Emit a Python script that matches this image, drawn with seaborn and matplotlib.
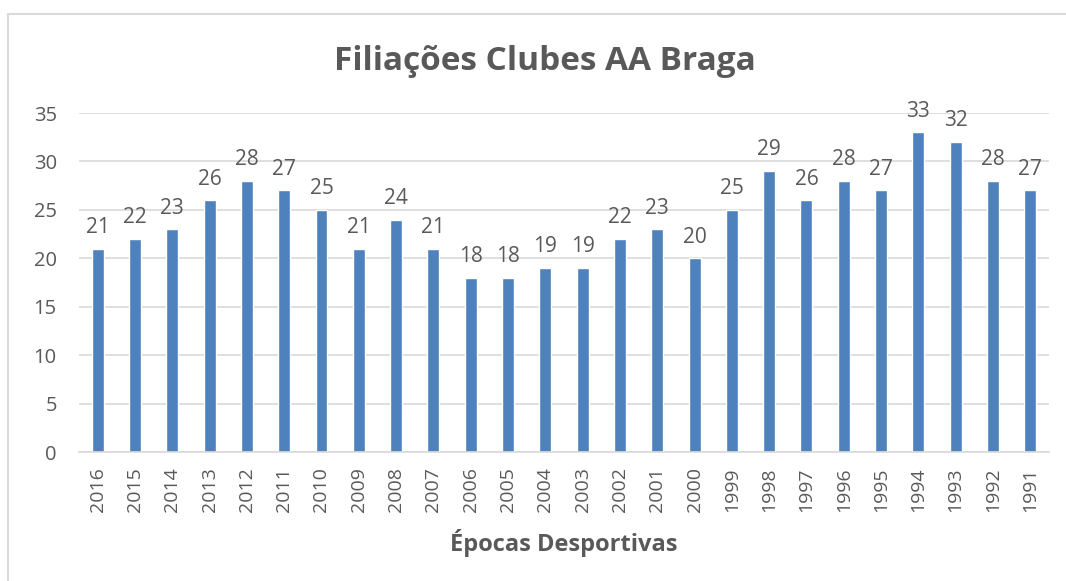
import matplotlib
matplotlib.use("Agg")
import matplotlib.pyplot as plt
import matplotlib.patches as mpatches
import seaborn as sns
import pandas as pd

# dados
epocas = ["2016", "2015", "2014", "2013", "2012", "2011", "2010", "2009", "2008",
          "2007", "2006", "2005", "2004", "2003", "2002", "2001", "2000", "1999",
          "1998", "1997", "1996", "1995", "1994", "1993", "1992", "1991"]
filiacoes = [21, 22, 23, 26, 28, 27, 25, 21, 24, 21, 18, 18, 19, 19, 22, 23, 20,
             25, 29, 26, 28, 27, 33, 32, 28, 27]

df = pd.DataFrame({"epoca": epocas, "clubes": filiacoes})

sns.set_theme(style="white")
plt.rcParams["font.family"] = ["Open Sans", "DejaVu Sans"]

cor_texto = "#595959"
fig = plt.figure(figsize=(10.66, 5.81), dpi=100)
ax = fig.add_axes([0.0741, 0.222, 0.9099, 0.5835])

sns.barplot(data=df, x="epoca", y="clubes", order=epocas, color="#4F81BD",
            width=0.32, saturation=1, ax=ax)

ax.set_ylim(0, 35)
ax.set_xlim(-0.5, len(epocas) - 0.5)
ax.set_yticks(range(0, 36, 5))
ax.yaxis.grid(True, color="#D9D9D9", linewidth=1.2)
ax.set_axisbelow(True)
for lado in ["top", "right", "left"]:
    ax.spines[lado].set_visible(False)
ax.spines["bottom"].set_color("#D9D9D9")
ax.spines["bottom"].set_linewidth(1.2)

ax.tick_params(axis="x", rotation=90, labelsize=14, colors=cor_texto, length=0, pad=11)
ax.tick_params(axis="y", labelsize=14.5, colors=cor_texto, length=0, pad=16)

# rótulos de dados
for i, v in enumerate(filiacoes):
    ax.text(i, v + 1.1, str(v), ha="center", va="bottom", fontsize=15, color=cor_texto)

ax.set_xlabel("Épocas Desportivas", fontsize=17, fontweight="bold", color=cor_texto, labelpad=12)
ax.set_ylabel("")
fig.text(0.511, 0.895, "Filiações Clubes AA Braga", ha="center", va="center",
         fontsize=24, fontweight="bold", color=cor_texto)

# moldura da área do gráfico
moldura = mpatches.Rectangle((8 / 1066, -0.1), 1.2, 1.1 - 14 / 581, transform=fig.transFigure,
                             fill=False, edgecolor="#D9D9D9", linewidth=1.5)
fig.patches.append(moldura)

fig.savefig("out.png", dpi=100)
